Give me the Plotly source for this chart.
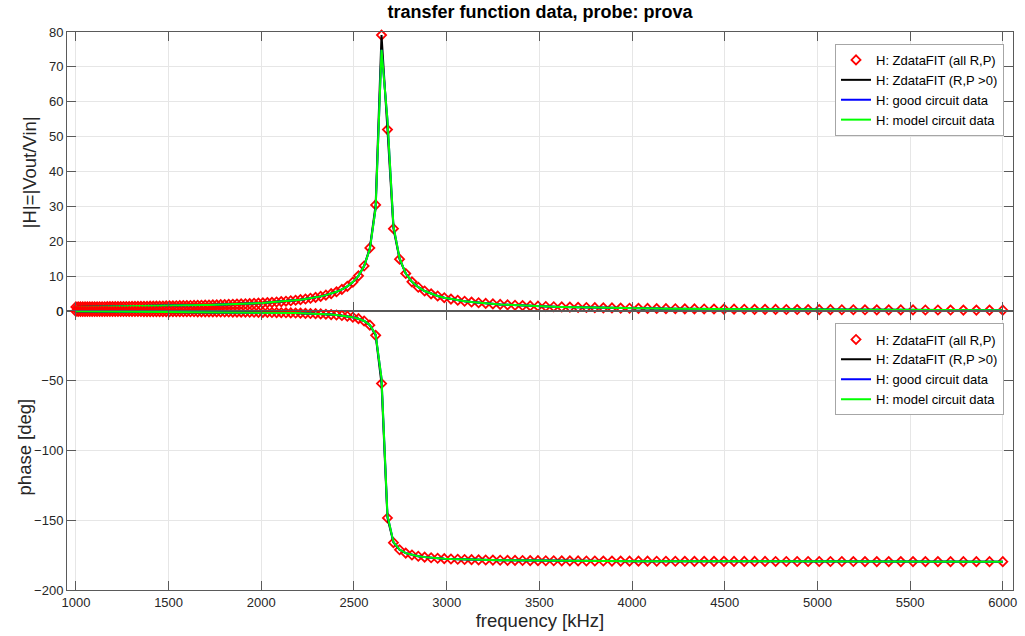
import plotly.graph_objects as go

# ---------------- data ----------------
freq_khz = [
    1000.0, 1012.1, 1024.34, 1036.73, 1049.27, 1061.97, 1074.81, 1087.82, 1100.98, 1114.30,
    1127.78, 1141.42, 1155.23, 1169.21, 1183.35, 1197.67, 1212.16, 1226.83, 1241.67, 1256.69,
    1271.89, 1287.28, 1302.85, 1318.61, 1334.56, 1350.71, 1367.05, 1383.59, 1400.33, 1417.27,
    1434.42, 1451.77, 1469.33, 1487.11, 1505.10, 1523.31, 1541.74, 1560.39, 1579.27, 1598.38,
    1617.73, 1637.30, 1657.11, 1677.16, 1697.45, 1717.99, 1738.77, 1759.81, 1781.10, 1802.65,
    1824.46, 1846.53, 1868.87, 1891.48, 1914.36, 1937.52, 1960.96, 1984.68, 2008.69, 2032.99,
    2057.63, 2082.52, 2107.71, 2133.21, 2159.02, 2185.14, 2211.58, 2238.33, 2265.41, 2292.82,
    2320.46, 2348.53, 2376.94, 2405.70, 2434.80, 2464.26, 2494.07, 2524.24, 2554.78, 2585.69,
    2616.97, 2648.63, 2680.67, 2713.10, 2745.92, 2779.14, 2812.76, 2846.79, 2881.23, 2916.09,
    2951.37, 2987.08, 3023.22, 3059.79, 3096.81, 3134.27, 3172.19, 3210.57, 3249.41, 3288.72,
    3328.50, 3368.77, 3409.52, 3450.77, 3492.52, 3534.77, 3577.53, 3620.81, 3664.61, 3708.94,
    3753.82, 3799.23, 3845.19, 3891.71, 3938.79, 3986.44, 4034.67, 4083.48, 4132.88, 4182.88,
    4233.49, 4284.71, 4336.54, 4389.00, 4442.10, 4495.84, 4550.23, 4605.28, 4660.99, 4717.38,
    4774.45, 4832.21, 4890.67, 4949.84, 5009.72, 5070.33, 5131.67, 5193.75, 5256.58, 5320.17,
    5384.54, 5449.68, 5515.61, 5582.34, 5649.87, 5718.22, 5787.40, 5857.41, 5928.27, 6000.0,
]

mag_fit = [
    1.165, 1.169, 1.174, 1.179, 1.184, 1.190, 1.195, 1.201, 1.207, 1.213,
    1.219, 1.226, 1.233, 1.240, 1.247, 1.255, 1.262, 1.270, 1.279, 1.288,
    1.297, 1.306, 1.316, 1.326, 1.337, 1.348, 1.359, 1.371, 1.384, 1.397,
    1.410, 1.425, 1.440, 1.455, 1.471, 1.489, 1.506, 1.525, 1.545, 1.566,
    1.588, 1.611, 1.635, 1.661, 1.688, 1.717, 1.747, 1.779, 1.814, 1.851,
    1.890, 1.931, 1.976, 2.024, 2.076, 2.132, 2.192, 2.258, 2.329, 2.407,
    2.493, 2.587, 2.690, 2.806, 2.935, 3.080, 3.244, 3.432, 3.648, 3.899,
    4.191, 4.544, 4.973, 5.504, 6.181, 7.071, 8.294, 10.08, 12.91, 18.10,
    30.43, 79.12, 52.02, 23.61, 14.87, 10.75, 8.371, 6.820, 5.731, 4.926,
    4.305, 3.813, 3.414, 3.083, 2.804, 2.567, 2.362, 2.183, 2.026, 1.887,
    1.763, 1.652, 1.552, 1.461, 1.379, 1.303, 1.234, 1.170, 1.112, 1.057,
    1.007, 0.960, 0.916, 0.876, 0.837, 0.801, 0.768, 0.736, 0.706, 0.678,
    0.652, 0.626, 0.602, 0.580, 0.558, 0.538, 0.519, 0.500, 0.482, 0.466,
    0.450, 0.434, 0.420, 0.406, 0.392, 0.379, 0.367, 0.355, 0.344, 0.333,
    0.323, 0.312, 0.303, 0.293, 0.285, 0.276, 0.268, 0.260, 0.252, 0.244,
]

phase_fit = [
    -0.25, -0.26, -0.26, -0.26, -0.27, -0.27, -0.28, -0.28, -0.29, -0.29,
    -0.30, -0.30, -0.31, -0.31, -0.32, -0.32, -0.33, -0.34, -0.34, -0.35,
    -0.36, -0.36, -0.37, -0.38, -0.38, -0.39, -0.40, -0.41, -0.42, -0.43,
    -0.44, -0.45, -0.46, -0.47, -0.48, -0.49, -0.50, -0.51, -0.53, -0.54,
    -0.55, -0.57, -0.58, -0.60, -0.62, -0.64, -0.65, -0.67, -0.70, -0.72,
    -0.74, -0.77, -0.80, -0.83, -0.86, -0.89, -0.93, -0.97, -1.01, -1.05,
    -1.11, -1.16, -1.22, -1.29, -1.37, -1.45, -1.55, -1.66, -1.78, -1.93,
    -2.10, -2.30, -2.55, -2.85, -3.24, -3.76, -4.46, -5.49, -7.13, -10.14,
    -17.44, -51.99, -148.37, -166.06, -171.17, -173.55, -174.92, -175.81, -176.44, -176.90,
    -177.26, -177.54, -177.78, -177.97, -178.13, -178.27, -178.39, -178.49, -178.58, -178.66,
    -178.74, -178.80, -178.86, -178.91, -178.96, -179.01, -179.05, -179.09, -179.12, -179.15,
    -179.19, -179.21, -179.24, -179.27, -179.29, -179.31, -179.33, -179.35, -179.37, -179.39,
    -179.41, -179.42, -179.44, -179.45, -179.47, -179.48, -179.49, -179.50, -179.52, -179.53,
    -179.54, -179.55, -179.56, -179.57, -179.58, -179.59, -179.59, -179.60, -179.61, -179.62,
    -179.63, -179.63, -179.64, -179.65, -179.65, -179.66, -179.67, -179.67, -179.68, -179.68,
]

# model circuit data differs from the fit only around the resonance
model_diff_index = [79, 80, 81, 82, 83, 84]
mag_model_diff = [17.76, 29.49, 74.87, 54.79, 24.26, 15.14]
phase_model_diff = [-9.94, -16.86, -48.19, -146.50, -165.67, -171.01]

x_ticks = [1000, 1500, 2000, 2500, 3000, 3500, 4000, 4500, 5000, 5500, 6000]
mag_ticks = [0, 10, 20, 30, 40, 50, 60, 70, 80]
phase_ticks = [-200, -150, -100, -50, 0]

series_names = [
    "H: ZdataFIT (all R,P)",
    "H: ZdataFIT (R,P >0)",
    "H: good circuit data",
    "H: model circuit data",
]

# ---------------- derived series ----------------
mag_model = list(mag_fit)
phase_model = list(phase_fit)
for i, m, p in zip(model_diff_index, mag_model_diff, phase_model_diff):
    mag_model[i] = m
    phase_model[i] = p

FONT = "Liberation Sans, Arial, Helvetica, sans-serif"
AX_COL = "#5a5a5a"
TXT_COL = "#262626"

fig = go.Figure()


def add_set(xa, ya, leg, yfit, ymodel):
    fig.add_trace(go.Scatter(
        x=freq_khz, y=yfit, mode="markers", name=series_names[0],
        marker=dict(symbol="diamond-open", size=7, color="#ff0000",
                    line=dict(color="#ff0000", width=1.8)),
        cliponaxis=False, xaxis=xa, yaxis=ya, legend=leg))
    fig.add_trace(go.Scatter(
        x=freq_khz, y=yfit, mode="lines", name=series_names[1],
        line=dict(color="#000000", width=2), xaxis=xa, yaxis=ya, legend=leg))
    fig.add_trace(go.Scatter(
        x=freq_khz, y=ymodel, mode="lines", name=series_names[2],
        line=dict(color="#0000ff", width=2), xaxis=xa, yaxis=ya, legend=leg))
    fig.add_trace(go.Scatter(
        x=freq_khz, y=ymodel, mode="lines", name=series_names[3],
        line=dict(color="#00ff00", width=2), xaxis=xa, yaxis=ya, legend=leg))


add_set("x", "y", "legend", mag_fit, mag_model)
add_set("x2", "y2", "legend2", phase_fit, phase_model)

axis_common = dict(
    showline=True, linecolor=AX_COL, linewidth=1, mirror="ticks",
    ticks="inside", ticklen=9, tickcolor=AX_COL, tickwidth=1,
    showgrid=True, gridcolor="#e6e6e6", gridwidth=1, zeroline=False,
    tickfont=dict(family=FONT, size=13, color=TXT_COL),
    title_font=dict(family=FONT, size=18.5, color=TXT_COL),
)

legend_common = dict(
    xref="paper", yref="paper", xanchor="right", yanchor="top",
    bgcolor="#ffffff", bordercolor="#a6a6a6", borderwidth=1,
    font=dict(family=FONT, size=13, color="#000000"),
    tracegroupgap=0,
)

ytitle_font = dict(family=FONT, size=18.5, color=TXT_COL)

fig.update_layout(
    width=1025, height=636,
    margin=dict(l=67, r=8, t=32, b=45),
    paper_bgcolor="#ffffff", plot_bgcolor="#ffffff",
    font=dict(family=FONT, color=TXT_COL),
    title=dict(text="<b>transfer function data, probe: prova</b>",
               font=dict(family=FONT, size=18, color="#000000"),
               x=0.5, xref="paper", xanchor="center",
               y=1 - 12 / 636, yref="container", yanchor="middle"),
    xaxis=dict(axis_common, domain=[0, 1], anchor="y", range=[952, 6055],
               tickvals=x_ticks, showticklabels=False),
    yaxis=dict(axis_common, domain=[0.5, 1], anchor="x", range=[0, 80],
               tickvals=mag_ticks),
    xaxis2=dict(axis_common, domain=[0, 1], anchor="y2", range=[952, 6055],
                tickvals=x_ticks, matches="x",
                title=dict(text="frequency [kHz]", standoff=5)),
    yaxis2=dict(axis_common, domain=[0, 0.5], anchor="x2", range=[-200, 0],
                tickvals=phase_ticks),
    legend=dict(legend_common, x=0.9905, y=0.9785),
    legend2=dict(legend_common, x=0.9905, y=0.4776),
    showlegend=True,
    annotations=[
        dict(text="|H|=|Vout/Vin|", textangle=-90, showarrow=False,
             xref="paper", yref="paper", x=(29 - 67) / 950, y=0.7487,
             xanchor="center", yanchor="middle", font=ytitle_font),
        dict(text="phase [deg]", textangle=-90, showarrow=False,
             xref="paper", yref="paper", x=(24 - 67) / 950, y=0.2558,
             xanchor="center", yanchor="middle", font=ytitle_font),
    ],
)

fig.write_html("out.html")
